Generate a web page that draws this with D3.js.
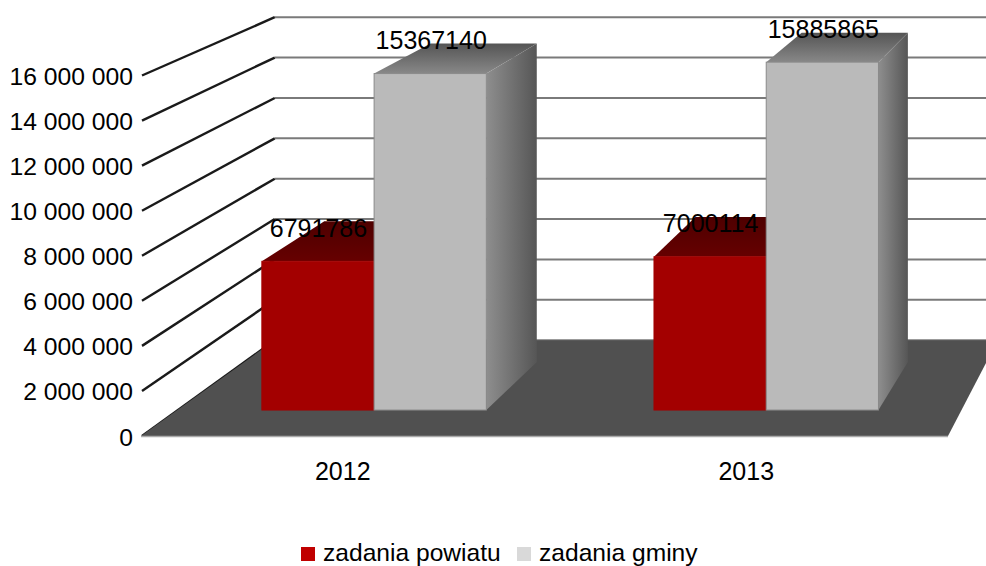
<!DOCTYPE html>
<html><head><meta charset="utf-8">
<script src="https://cdn.jsdelivr.net/npm/d3@7"></script>
<style>html,body{margin:0;background:#fff}svg{display:block}text{font-family:"Liberation Sans",Arial,sans-serif;fill:#000}</style>
</head><body><svg id="c" width="986" height="566"></svg>
<script>
const categories = ["2012", "2013"];
const seriesNames = ["zadania powiatu", "zadania gminy"];
const zadaniaPowiatu = [6791786, 7000114];
const zadaniaGminy = [15367140, 15885865];
const tickValues = [0, 2000000, 4000000, 6000000, 8000000, 10000000, 12000000, 14000000, 16000000];

const svg = d3.select("#c");
const defs = svg.append("defs");
const grad = (id, x2, y2, a, b) => {
  const g = defs.append("linearGradient").attr("id", id).attr("x1",0).attr("y1",0).attr("x2",x2).attr("y2",y2);
  g.append("stop").attr("offset",0).attr("stop-color",a);
  g.append("stop").attr("offset",1).attr("stop-color",b);
};
grad("sideG",1,0,"#8e8e8e","#565656");
grad("topG",0,1,"#555555","#888888");
grad("topR",0,1,"#4e0000","#660000");

// front-plane scales
const x0 = d3.scaleBand().domain(categories).range([141,948]);
const xIn = d3.scaleBand().domain(seriesNames).range([0,231]);
const barOffset = (x0.bandwidth()-231)/2 + 0.8;
const h = d3.scaleLinear().domain([0,16000000]).range([0,360.5]);
// perspective: every point shrinks towards one vanishing point with depth
const fS = d3.scaleLinear().domain([0,1]).range([1,0.896]);
const vpX = 1427, vpY = -485;
const fFront = 0.9718, fBack = 0.9197;
const zFront = fS.invert(fFront), zBack = fS.invert(fBack);
const px = (X,z) => vpX + (X-vpX)*fS(z);
const py = (v,z) => vpY + (436-h(v)-vpY)*fS(z);
const P = (X,v,z) => [px(X,z), py(v,z)];
const poly = d3.line();

const g = svg.append("g");
// back wall and left wall lines
tickValues.forEach(v => {
  g.append("line").attr("x1",px(141,1)).attr("x2",986).attr("y1",py(v,1)).attr("y2",py(v,1))
    .attr("stroke","#7a7a7a").attr("stroke-width",2);
  g.append("line").attr("x1",142).attr("y1",py(v,0)).attr("x2",px(141,1)).attr("y2",py(v,1))
    .attr("stroke","#1a1a1a").attr("stroke-width",2.4);
});
// floor
g.append("path").attr("d",poly([P(141,0,0),P(948,0,0),P(948,0,1),P(141,0,1)])+"Z").attr("fill","#505050");
g.append("line").attr("x1",141).attr("x2",948).attr("y1",436.5).attr("y2",436.5).attr("stroke","#aaa").attr("stroke-width",1.5);

// bars
const series = [
  {name:seriesNames[0], vals:zadaniaPowiatu, front:"#a30000", top:"url(#topR)", side:"#5c0000", border:"#a30000"},
  {name:seriesNames[1], vals:zadaniaGminy, front:"#bababa", top:"url(#topG)", side:"url(#sideG)", border:"#8a8a8a"}
];
categories.forEach((c,i) => {
  series.forEach(s => {
    const L = x0(c)+barOffset+xIn(s.name), R = L+xIn.bandwidth(), v = s.vals[i];
    g.append("path").attr("d",poly([P(L,v,zFront),P(R,v,zFront),P(R,v,zBack),P(L,v,zBack)])+"Z").attr("fill",s.top);
    g.append("path").attr("d",poly([P(R,0,zFront),P(R,v,zFront),P(R,v,zBack),P(R,0,zBack)])+"Z").attr("fill",s.side);
    g.append("rect").attr("x",px(L,zFront)).attr("y",py(v,zFront)).attr("width",px(R,zFront)-px(L,zFront)).attr("height",py(0,zFront)-py(v,zFront))
      .attr("fill",s.front).attr("stroke",s.border).attr("stroke-width",1);
  });
});
// value labels
categories.forEach((c,i) => {
  series.forEach(s => {
    const L = x0(c)+barOffset+xIn(s.name), v = s.vals[i];
    svg.append("text").attr("x",px(L+xIn.bandwidth()/2,zFront)+(s===series[0]?0.5:1)).attr("y",py(v,zFront)-24.5)
      .attr("text-anchor","middle").attr("font-size",25).text(v);
  });
});
// y labels
const fmt = d => d3.format(",")(d).replace(/,/g," ");
tickValues.forEach(v => {
  svg.append("text").attr("x",133).attr("y",py(v,0)+9.5).attr("text-anchor","end").attr("font-size",24.7).text(fmt(v));
});
// category labels
categories.forEach(c => {
  svg.append("text").attr("x",x0(c)+x0.bandwidth()/2).attr("y",480).attr("text-anchor","middle").attr("font-size",25).text(c);
});
// legend
const legColors = ["#c00000","#d9d9d9"], legX=[301,517], legT=[323,539];
seriesNames.forEach((n,i) => {
  svg.append("rect").attr("x",legX[i]).attr("y",547).attr("width",14).attr("height",14).attr("fill",legColors[i]);
  svg.append("text").attr("x",legT[i]).attr("y",561).attr("font-size",24.6).text(n);
});
</script></body></html>
